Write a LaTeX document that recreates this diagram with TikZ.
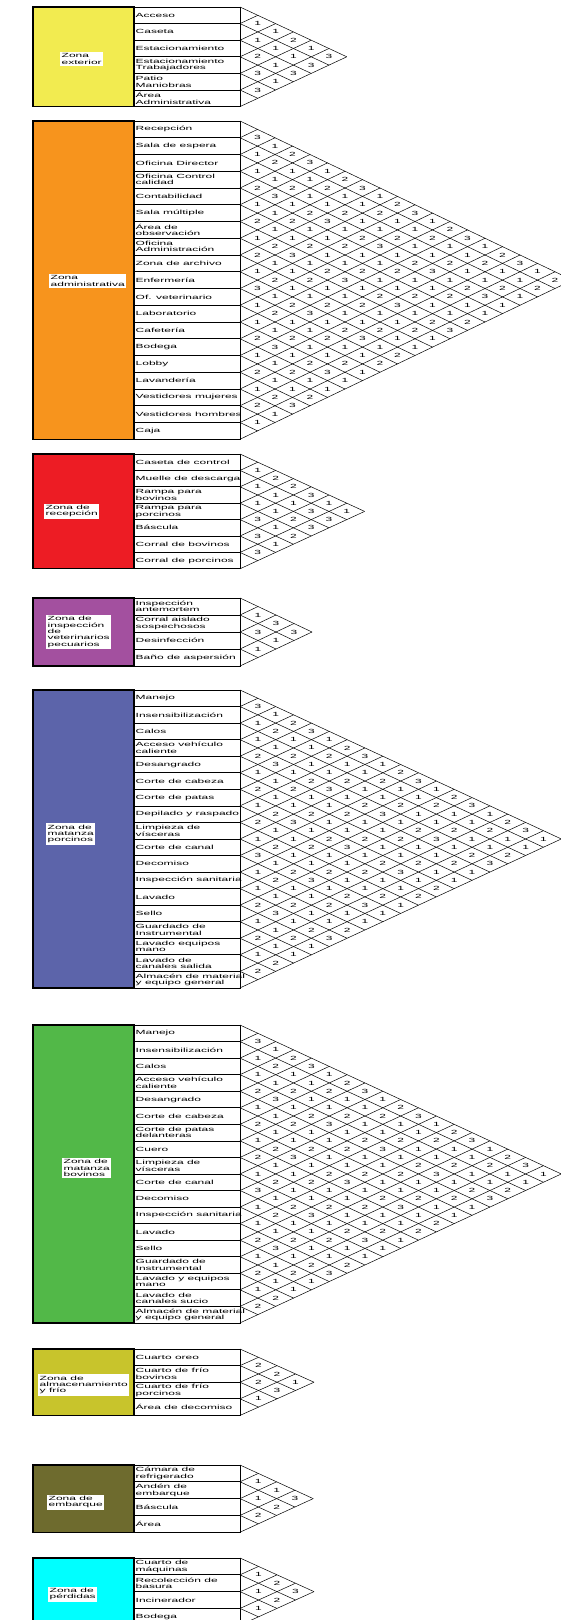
\documentclass[tikz,border=0pt]{standalone}
\usepackage{fontspec}
\setmainfont{Liberation Sans}[FakeStretch=2]
\usepackage{tikz}
\definecolor{extyellow}{RGB}{242,235,80}
\definecolor{admorange}{RGB}{247,148,29}
\definecolor{recred}{RGB}{237,28,36}
\definecolor{insppurple}{RGB}{163,80,159}
\definecolor{porcblue}{RGB}{92,100,170}
\definecolor{bovgreen}{RGB}{82,184,72}
\definecolor{almolive}{RGB}{200,196,44}
\definecolor{embolive}{RGB}{110,107,46}
\definecolor{perdcyan}{RGB}{0,255,255}
\tikzstyle{zone frame}=[draw=black, line width=1.2pt]
\tikzstyle{row frame}=[draw=black, line width=0.7pt]
\tikzstyle{row label}=[anchor=west, inner sep=0pt, align=left, font=\fontsize{6}{6.4}\selectfont]
\tikzstyle{zone label}=[anchor=west, fill=white, inner sep=1.5pt, align=left, font=\fontsize{6}{6.4}\selectfont]
\tikzstyle{grid line}=[draw=black, line width=0.5pt]
\tikzstyle{rating}=[inner sep=0pt, font=\fontsize{6}{6}\selectfont]
% #1 name, #2 top, #3 rows, #4 row height, #5 step right, #6 fill, #7 labels, #8 ratings
\newcommand{\zonechart}[8]{%
  \pgfmathsetmacro{\zbot}{#2+#3*#4}
  \draw[zone frame, fill=#6] (33,#2) rectangle (134,\zbot);
  \foreach \lbl [count=\nrow] in {#7} {
    \pgfmathsetmacro{\ytop}{#2+(\nrow-1)*#4}
    \pgfmathsetmacro{\ybot}{#2+\nrow*#4}
    \draw[row frame] (134,\ytop) rectangle (240,\ybot);
    \node[row label] (#1-\nrow) at (135.5,{(\ytop+\ybot)/2}) {\lbl};
  }
  \pgfmathtruncatemacro{\zlast}{#3-1}
  \foreach \kk in {0,...,\zlast} {
    \draw[grid line] (240,{#2+\kk*#4}) -- ({240+(#3-\kk)*#5},{#2+(#3+\kk)*#4/2});
  }
  \foreach \kk in {1,...,#3} {
    \draw[grid line] (240,{#2+\kk*#4}) -- ({240+\kk*#5},{#2+\kk*#4/2});
  }
  \foreach \vals [count=\ci] in {#8} {
    \foreach \rat [count=\cd] in \vals {
      \node[rating] (#1-\ci-\cd) at ({240+\cd*#5},{#2+(\ci-0.5+\cd/2)*#4}) {\rat};
    }
  }
}
% rough fill for the big charts: #1 name, #2 top, #3 rows, #4 row height, #5 step right
\newcommand{\roughratings}[5]{%
  \pgfmathtruncatemacro{\zlast}{#3-1}
  \foreach \ci in {1,...,\zlast} {
    \pgfmathtruncatemacro{\dmax}{#3-\ci}
    \foreach \cd in {1,...,\dmax} {
      \pgfmathtruncatemacro{\rk}{mod(\ci*5+\cd*3,9)}
      \pgfmathtruncatemacro{\rat}{\rk<5 ? 1 : (\rk<8 ? 2 : 3)}
      \node[rating] (#1-\ci-\cd) at ({240+\cd*#5},{#2+(\ci-0.5+\cd/2)*#4}) {\rat};
    }
  }
}

\begin{document}
\begin{tikzpicture}[x=1pt, y=-1pt]
  \useasboundingbox (0,0) rectangle (560,1620);

  % zona exterior
  \zonechart{ext}{7}{6}{16.6}{17.8}{extyellow}
    {Acceso, Caseta, Estacionamiento, {Estacionamiento\\Trabajadores}, {Patio\\Maniobras}, {Área\\Administrativa}}
    {{1,1,2,1,3},{1,1,1,3},{2,1,3},{3,1},{3}}
  \node[zone label] (ext-title) at (60,59) {Zona\\exterior};

  % zona administrativa
  \zonechart{adm}{121}{19}{16.75}{17.5}{admorange}
    {Recepción, Sala de espera, Oficina Director, {Oficina Control\\calidad}, Contabilidad, Sala múltiple,
     {Área de\\observación}, {Oficina\\Administración}, Zona de archivo, Enfermería, Of. veterinario,
     Laboratorio, Cafetería, Bodega, Lobby, Lavandería, Vestidores mujeres, Vestidores hombres, Caja}
    {}
  \roughratings{adm}{121}{19}{16.75}{17.5}
  \node[zone label] (adm-title) at (49,281) {Zona\\administrativa};

  % zona de recepcion
  \zonechart{rec}{454}{7}{16.4}{17.8}{recred}
    {Caseta de control, Muelle de descarga, {Rampa para\\bovinos}, {Rampa para\\porcinos}, Báscula,
     Corral de bovinos, Corral de porcinos}
    {{1,2,2,3,1,1},{1,1,1,3,3},{1,1,2,3},{3,1,2},{3,1},{3}}
  \node[zone label] (rec-title) at (44,511) {Zona de\\recepción};

  % zona de inspeccion
  \zonechart{insp}{598}{4}{17}{18}{insppurple}
    {{Inspección\\antemortem}, {Corral aislado\\sospechosos}, Desinfección, Baño de aspersión}
    {{1,3,3},{3,1},{1}}
  \node[zone label] (insp-title) at (46,632) {Zona de\\inspección\\de\\veterinarios\\pecuarios};

  % zona de matanza porcinos
  \zonechart{porc}{690}{18}{16.55}{17.85}{porcblue}
    {Manejo, Insensibilización, Calos, {Acceso vehículo\\caliente}, Desangrado, Corte de cabeza,
     Corte de patas, Depilado y raspado, {Limpieza de\\vísceras}, Corte de canal, Decomiso,
     Inspección sanitaria, Lavado, Sello, {Guardado de\\Instrumental}, {Lavado equipos\\mano},
     {Lavado de\\canales salida}, {Almacén de material\\y equipo general}}
    {}
  \roughratings{porc}{690}{18}{16.55}{17.85}
  \node[zone label] (porc-title) at (46,834) {Zona de\\matanza\\porcinos};

  % zona de matanza bovinos
  \zonechart{bov}{1025}{18}{16.55}{17.85}{bovgreen}
    {Manejo, Insensibilización, Calos, {Acceso vehículo\\caliente}, Desangrado, Corte de cabeza,
     {Corte de patas\\delanteras}, Cuero, {Limpieza de\\vísceras}, Corte de canal, Decomiso,
     Inspección sanitaria, Lavado, Sello, {Guardado de\\Instrumental}, {Lavado y equipos\\mano},
     {Lavado de\\canales sucio}, {Almacén de material\\y equipo general}}
    {}
  \roughratings{bov}{1025}{18}{16.55}{17.85}
  \node[zone label] (bov-title) at (62,1168) {Zona de\\matanza\\bovinos};

  % zona de almacenamiento
  \zonechart{alm}{1349}{4}{16.6}{18.5}{almolive}
    {Cuarto oreo, {Cuarto de frío\\bovinos}, {Cuarto de frío\\porcinos}, Área de decomiso}
    {{2,2,1},{2,3},{1}}
  \node[zone label] (alm-title) at (38,1385) {Zona de\\almacenamiento\\y frío};

  % zona de embarque
  \zonechart{emb}{1465}{4}{16.8}{18.3}{embolive}
    {{Cámara de\\refrigerado}, {Andén de\\embarque}, Báscula, Área}
    {{1,1,3},{1,2},{2}}
  \node[zone label] (emb-title) at (47,1502) {Zona de\\embarque};

  % zona de perdidas
  \zonechart{perd}{1558}{4}{16.8}{18.5}{perdcyan}
    {{Cuarto de\\máquinas}, {Recolección de\\basura}, Incinerador, Bodega}
    {{1,2,3},{1,2},{1}}
  \node[zone label] (perd-title) at (48,1594) {Zona de\\pérdidas};
\end{tikzpicture}
\end{document}
